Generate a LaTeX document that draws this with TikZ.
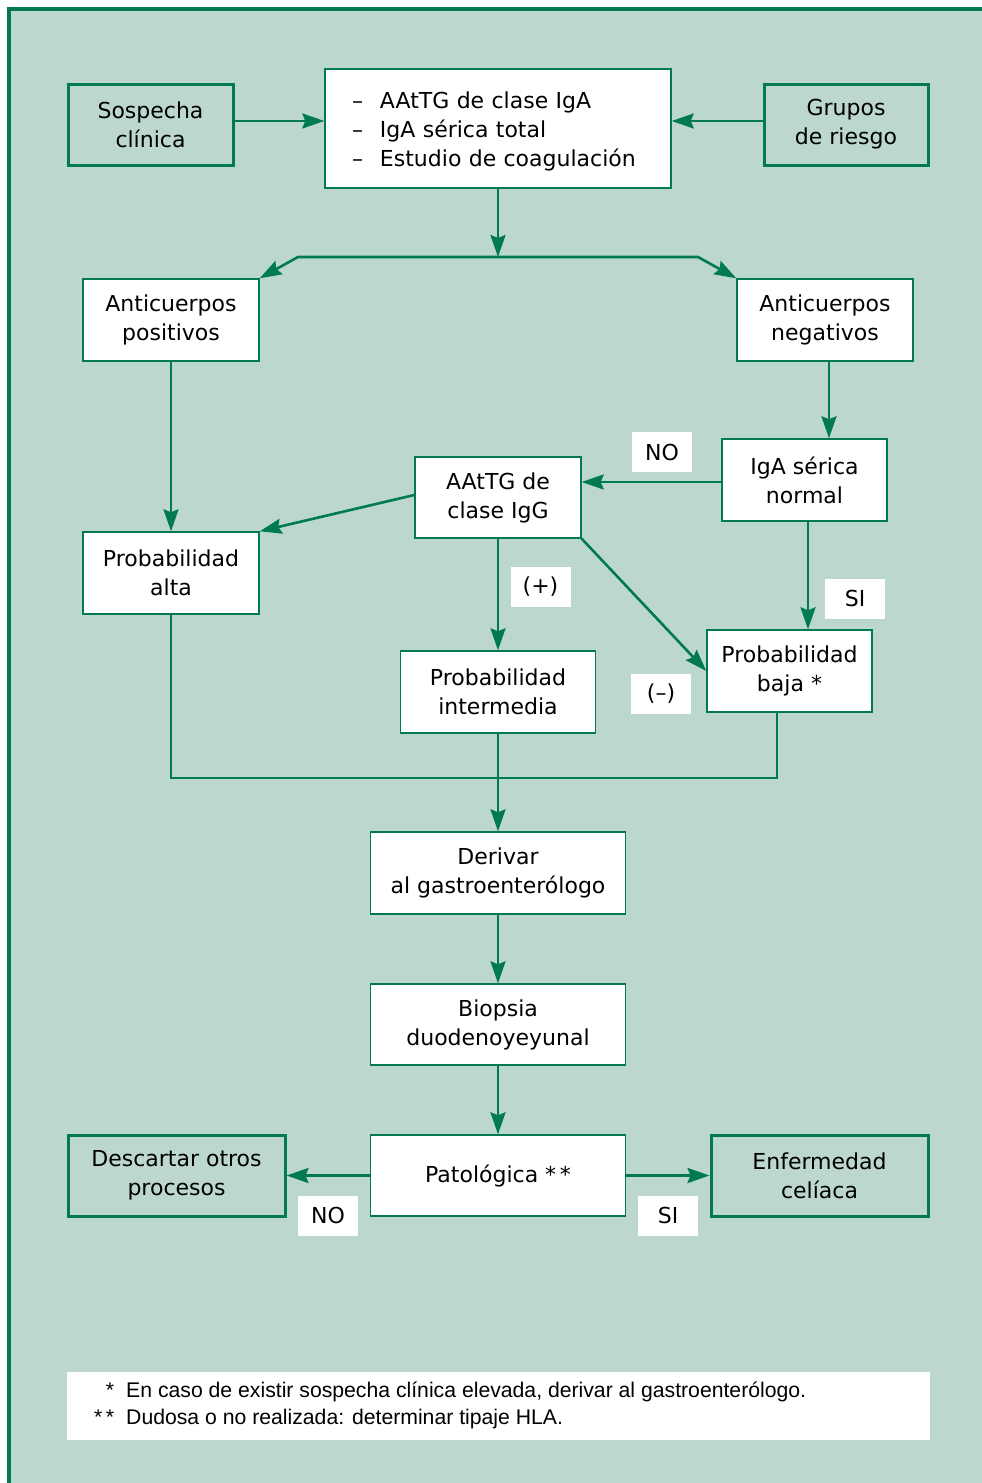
\documentclass[tikz,border=0pt]{standalone}
\usepackage{fontspec}
\setmainfont{DejaVu Sans}
\newfontfamily\notefont{Liberation Sans}
\usetikzlibrary{arrows.meta}
\definecolor{bgc}{HTML}{BCD8CE}
\definecolor{gc}{HTML}{007A4E}
\tikzset{
  box/.style={draw=gc, line width=1.4pt, fill=white, align=center, inner sep=0pt,
    font=\fontsize{22}{29}\selectfont},
  gbox/.style={box, fill=bgc, line width=3pt},
  lbl/.style={fill=white, inner sep=0pt, minimum width=60pt, minimum height=40pt,
    font=\fontsize{22}{29}\selectfont},
  arr/.style={draw=gc, line width=2.6pt, -{Stealth[length=22pt,width=15pt,inset=3pt]}},
  ln/.style={draw=gc, line width=2.6pt},
}
\begin{document}
\begin{tikzpicture}[x=1pt,y=-1pt]
\useasboundingbox (0,0) rectangle (982,1483);
\fill[bgc] (9,9) rectangle (982,1483);
\draw[gc, line width=4pt] (9,1483) -- (9,9) -- (982,9);

\node[gbox, minimum width=165pt, minimum height=81pt] (sos) at (150.5,124.5) {Sospecha\\clínica};
\node[box, minimum width=346pt, minimum height=119pt, text width=292pt, align=left, inner xsep=27pt] (top) at (498,128.5)
  {\rule{0pt}{23pt}–\hspace{17pt}AAtTG de clase IgA\\–\hspace{17pt}IgA sérica total\\–\hspace{17pt}Estudio de coagulación};
\node[gbox, minimum width=164pt, minimum height=81pt] (gru) at (846,124.5) {Grupos\\de riesgo};

\node[box, minimum width=176pt, minimum height=82pt] (pos) at (171,320) {Anticuerpos\\positivos};
\node[box, minimum width=176pt, minimum height=82pt] (neg) at (825,320) {Anticuerpos\\negativos};
\node[box, minimum width=165pt, minimum height=82pt] (iga) at (804.5,480) {IgA sérica\\normal};
\node[box, minimum width=166pt, minimum height=81pt] (igg) at (498,497.5) {AAtTG de\\clase IgG};
\node[box, minimum width=176pt, minimum height=82pt] (alta) at (171,573) {Probabilidad\\alta};
\node[box, minimum width=195pt, minimum height=82pt] (inter) at (498,692) {Probabilidad\\intermedia};
\node[box, minimum width=165pt, minimum height=82pt] (baja) at (789.5,671) {Probabilidad\\baja *};
\node[box, minimum width=255pt, minimum height=82pt] (der) at (498,873) {Derivar\\al gastroenterólogo};
\node[box, minimum width=255pt, minimum height=81pt] (bio) at (498,1024.5) {Biopsia\\duodenoyeyunal};
\node[box, minimum width=255pt, minimum height=81pt] (pat) at (498,1175.5) {Patológica *\,*};
\node[gbox, minimum width=217pt, minimum height=81pt] (desc) at (176.5,1175.5) {Descartar otros\\procesos};
\node[gbox, minimum width=217pt, minimum height=81pt] (enf) at (819.5,1175.5) {Enfermedad\\celíaca};

\node[lbl] (lno1) at (662,452) {NO};
\node[lbl] (lmas) at (540.5,586.5) {(+)};
\node[lbl] (lsi1) at (855,598.5) {SI};
\node[lbl] (lmen) at (661,694) {(–)};
\node[lbl] (lno2) at (328,1215.5) {NO};
\node[lbl] (lsi2) at (668,1215.5) {SI};

\node[fill=white, minimum width=863pt, minimum height=68pt, inner sep=0pt] (note) at (498.5,1406) {};
\node[anchor=west, inner sep=0pt, font=\notefont\fontsize{21.2}{27}\selectfont] (notetxt) at (94,1406)
  {\begin{tabular}{@{}r@{\hspace{12pt}}l@{}}* & En caso de existir sospecha clínica elevada, derivar al gastroenterólogo.\\ \relax
   *\,* & Dudosa o no realizada: determinar tipaje HLA.\end{tabular}};

% connectors
\draw[arr] (sos.east |- 0,121) -- (top.west |- 0,121);
\draw[arr] (gru.west |- 0,121) -- (top.east |- 0,121);
\coordinate (bm) at (498,257);
\coordinate (bl) at (298,257);
\coordinate (br) at (698,257);
\draw[arr] (top.south) -- (bm);
\draw[arr, line join=round] (bm) -- (bl) -- (pos.north east);
\draw[arr, line join=round] (bm) -- (br) -- (neg.north west);
\draw[arr] (pos.south) -- (alta.north);
\draw[arr] (neg.south -| 829,0) -- (iga.north -| 829,0);
\draw[arr] (iga.west |- 0,482) -- (igg.east |- 0,482);
\draw[arr] (igg.west |- 0,495) -- (alta.north east);
\draw[arr] (igg.south) -- (inter.north);
\draw[arr] (igg.south east) -- (baja.west);
\draw[arr] (iga.south -| 808,0) -- (baja.north -| 808,0);
\coordinate (m) at (498,778);
\draw[ln] (alta.south) |- (m);
\draw[ln] (baja.south -| 777,0) |- (m);
\draw[arr] (inter.south) -- (der.north);
\draw[arr] (der.south) -- (bio.north);
\draw[arr] (bio.south) -- (pat.north);
\draw[arr] (pat.west) -- (desc.east);
\draw[arr] (pat.east) -- (enf.west);
\end{tikzpicture}
\end{document}
